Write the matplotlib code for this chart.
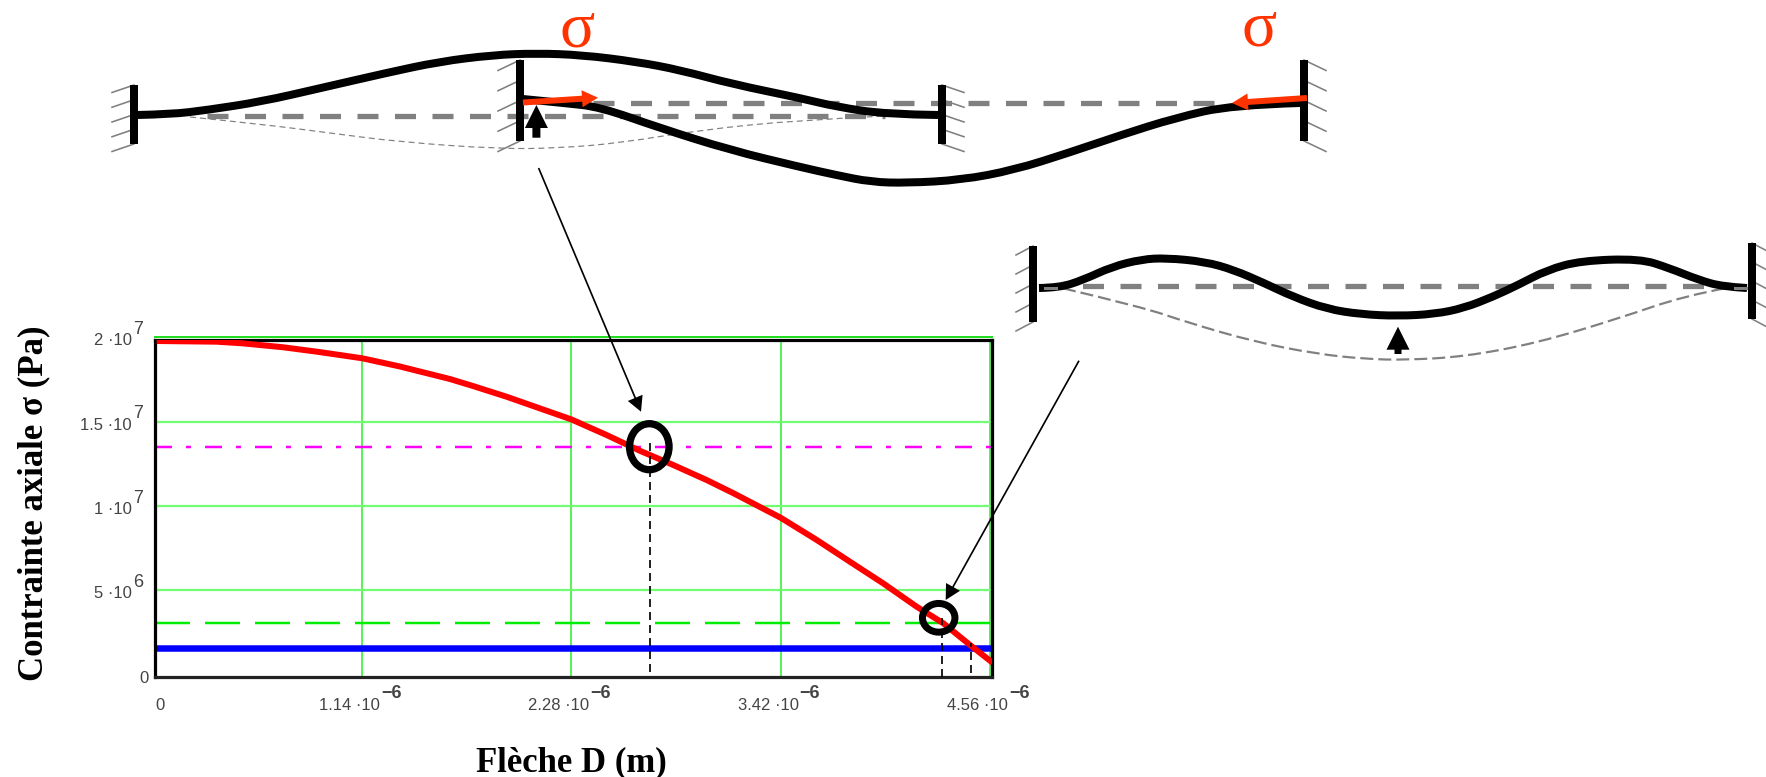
import numpy as np
import matplotlib
matplotlib.use('Agg')
import matplotlib.pyplot as plt
from matplotlib.path import Path
from matplotlib.patches import PathPatch, Ellipse

plt.rcParams['lines.scale_dashes'] = False
plt.rcParams['font.family'] = ['Liberation Sans', 'DejaVu Sans']

W, H = 1766, 777
PX = 0.72  # one pixel in points at dpi 100

# chart data
fleche = [0.022, 0.349, 0.492, 0.710, 0.893, 1.140, 1.347, 1.619, 1.746, 1.928, 2.109, 2.280, 2.473,
          2.654, 2.835, 3.017, 3.161, 3.420, 3.617, 3.798, 3.979, 4.161, 4.306, 4.452, 4.575]  # 1e-6 m
contrainte = [1.977, 1.973, 1.963, 1.940, 1.914, 1.875, 1.826, 1.752, 1.710, 1.647, 1.578, 1.513, 1.420,
              1.327, 1.243, 1.154, 1.077, 0.931, 0.799, 0.670, 0.542, 0.404, 0.306, 0.177, 0.072]  # 1e7 Pa
niveau_magenta = 1.351e7
niveau_vert = 3.09e6
niveau_bleu = 1.575e6
repere_x = [2.709e-6, 4.301e-6, 4.457e-6]
repere_haut = [1.371e7, 3.37e6, 1.87e6]
repere_bas = [0.17e6, -1.0e5, 1.1e5]

x_ticks = [0, 1.14e-6, 2.28e-6, 3.42e-6, 4.56e-6]
x_mantisses = ['0', '1.14 ·10', '2.28 ·10', '3.42 ·10', '4.56 ·10']
y_ticks = [0, 5e6, 1e7, 1.5e7, 2e7]
y_mantisses = ['0', '5 ·10', '1 ·10', '1.5 ·10', '2 ·10']
y_exposants = ['', '6', '7', '7', '7']

# beam sketches, in picture pixels
poutre_a = [(137, 115), (171, 114.3), (207, 110), (261, 101.7), (321, 88), (386, 73), (439, 61.7), (493, 55),
            (536, 53.3), (582, 55), (636, 61.7), (680, 70), (732, 84), (800, 98), (836, 106.7), (886, 114.3), (938, 115)]
poutre_b = [(523, 99), (564, 103), (600, 107), (660, 128), (730, 150), (800, 167), (836, 175), (871, 182), (907, 183),
            (961, 180), (1014, 170), (1068, 153), (1121, 135), (1175, 118), (1232, 105), (1300, 103)]
fine_a = [(190, 117), (260, 124), (330, 133), (400, 142), (500, 149), (560, 148), (620, 143), (700, 130), (800, 120), (885, 116)]
poutre_c = [(1039, 288), (1059, 287.7), (1083, 280), (1112, 266.7), (1142, 259.3), (1166, 258), (1205, 261.7), (1234, 270),
            (1264, 283), (1293, 296.7), (1327, 309), (1361, 314.3), (1398, 316), (1435, 314), (1464, 308), (1493, 296.7),
            (1518, 285), (1547, 270), (1581, 260.7), (1640, 258.7), (1669, 268), (1699, 280), (1723, 286.7), (1747, 288)]
fine_c = [(1063, 288.3), (1142, 307), (1186, 322), (1254, 341.7), (1317, 354), (1366, 359), (1405, 360), (1464, 356.7),
          (1537, 343), (1620, 318), (1684, 296), (1728, 287.7)]

# x, y top, y bottom, tick dx, tick dy
murs = [(134, 85, 144, -22, 7.5), (520, 60, 141, -22, 10.5), (942, 85, 144, 22, 7.5), (1304, 60, 141, 22, 10.5),
        (1033, 246, 322, -17, 9), (1752, 243, 319, 17, 9)]
pointilles_gros = [(207, 885, 116), (593, 1214, 102.7), (1045, 1747, 286)]
bouts_gris = [(1045, 1056, 288), (1735, 1747, 288)]


def smooth(points):
    # quadratic spline through the midpoints
    verts = [points[0]]
    codes = [Path.MOVETO]
    for p, q in zip(points[1:-1], points[2:]):
        verts += [p, ((p[0] + q[0]) / 2, (p[1] + q[1]) / 2)]
        codes += [Path.CURVE3, Path.CURVE3]
    verts[-1] = points[-1]
    return Path(verts, codes)


def block_arrow(ax, tail, tip, head_len, head_w, shaft_w, color, zorder=6):
    tail = np.array(tail, float)
    tip = np.array(tip, float)
    u = (tip - tail) / np.linalg.norm(tip - tail)
    n = np.array([-u[1], u[0]])
    base = tip - u * head_len
    poly = [tail + n * shaft_w / 2, base + n * shaft_w / 2, base + n * head_w / 2, tip,
            base - n * head_w / 2, base - n * shaft_w / 2, tail - n * shaft_w / 2]
    ax.fill(*zip(*poly), color=color, lw=0, zorder=zorder)


fig = plt.figure(figsize=(W / 100, H / 100), dpi=100)

# ---- chart ----
# the frame sits a little inside the 0 and 2e7 / outside the 4.56e-6 graduations, as in the mathcad plot
ax = fig.add_axes([155 / W, (H - 676.7) / H, 836.7 / W, 336.7 / H])
ax.set_xlim(0.0125e-6, 4.570e-6)
ax.set_ylim(-1.07e5, 1.983e7)
ax.set_xticks(x_ticks[1:])
ax.set_yticks(y_ticks[1:4])
ax.set_xticklabels([])
ax.set_yticklabels([])
ax.tick_params(length=0)
ax.grid(axis='x', color='#33ee33', lw=1.6 * PX, zorder=1)
ax.grid(axis='y', color='#70ff70', lw=2.2 * PX, zorder=1)
ax.set_axisbelow(True)
for s in ax.spines.values():
    s.set_linewidth(3.2 * PX)
    s.set_color('black')
ax.spines['bottom'].set_color('#222222')

ax.axhline(niveau_bleu, color='#0000ff', lw=6.5 * PX, zorder=2)
ax.axhline(niveau_vert, color='#00ee00', lw=2.5 * PX, ls=(0, (35 * PX, 15 * PX)), zorder=2)
ax.axhline(niveau_magenta, color='#ff00ff', lw=2.5 * PX,
           ls=(0, (17 * PX, 14 * PX, 5 * PX, 14 * PX)), zorder=2)
ax.plot(np.array(fleche) * 1e-6, np.array(contrainte) * 1e7, color='#ff0000', lw=6 * PX, zorder=3,
        solid_capstyle='butt', solid_joinstyle='round')
for xr, yh, yb in zip(repere_x, repere_haut, repere_bas):
    ax.plot([xr, xr], [yb, yh], color='black', lw=1.7 * PX, ls=(0, (8 * PX, 5 * PX)), zorder=4)

# tick labels drawn the way mathcad does, mantissa then a big raised exponent
gris = '#444444'
for val, m, e in zip(y_ticks, y_mantisses, y_exposants):
    if m == '0':
        ax.annotate(m, (0, val), xytext=(-4, -4), textcoords='offset pixels', ha='right', va='center',
                    fontsize=12, color=gris, annotation_clip=False)
        continue
    ax.annotate(m, (0, val), xytext=(-21, -3.5), textcoords='offset pixels', ha='right', va='center',
                fontsize=12, color=gris, annotation_clip=False)
    ax.annotate(e, (0, val), xytext=(-20, 8), textcoords='offset pixels', ha='left', va='center',
                fontsize=13, color=gris, annotation_clip=False)
for val, m in zip(x_ticks, x_mantisses):
    if m == '0':
        ax.annotate(m, (0, 0), xytext=(7, -31), textcoords='offset pixels', ha='center', va='center',
                    fontsize=12, color=gris, annotation_clip=False)
        continue
    ax.annotate(m, (val, 0), xytext=(18, -31), textcoords='offset pixels', ha='right', va='center',
                fontsize=12, color=gris, annotation_clip=False)
    ax.annotate('\u22126', (val, 0), xytext=(19, -19), textcoords='offset pixels', ha='left', va='center',
                fontsize=13, color=gris, fontweight='bold', annotation_clip=False)

# ---- sketches and annotations, in picture pixels ----
ov = fig.add_axes([0, 0, 1, 1])
ov.set_xlim(0, W)
ov.set_ylim(H, 0)
ov.axis('off')

# the 2e7 graduation shows as a green edge just over the frame
ov.plot([155, 992], [337, 337], color='#22dd22', lw=2 * PX, zorder=2)

gris_trait = '#808080'
for x0, x1, y in pointilles_gros:
    ov.plot([x0, x1], [y, y], color=gris_trait, lw=5.3 * PX, ls=(0, (21 * PX, 16.5 * PX)), zorder=3)
ov.add_patch(PathPatch(smooth(fine_a), fc='none', ec=gris_trait, lw=1.2 * PX, ls=(0, (6 * PX, 4 * PX)), zorder=3))
ov.add_patch(PathPatch(smooth(fine_c), fc='none', ec=gris_trait, lw=2.2 * PX, ls=(0, (13 * PX, 5 * PX)), zorder=3))

for pts in (poutre_a, poutre_b, poutre_c):
    ov.add_patch(PathPatch(smooth(pts), fc='none', ec='black', lw=8 * PX, capstyle='butt', zorder=4))
for x0, x1, y in bouts_gris:
    ov.plot([x0, x1], [y, y], color=gris_trait, lw=3 * PX, zorder=4.5)

for x, y0, y1, dx, dy in murs:
    ov.plot([x, x], [y0, y1], color='black', lw=8 * PX, solid_capstyle='butt', zorder=5)
    for yt in np.linspace(y0, y1, 5):
        ov.plot([x, x + dx], [yt, yt + dy], color=gris_trait, lw=1.6 * PX, zorder=3)

rouge = '#ff3300'
block_arrow(ov, (523, 102.5), (598, 97.7), 16, 17, 6, rouge)
block_arrow(ov, (1307, 98), (1232, 103), 16, 17, 6, rouge)
block_arrow(ov, (536.4, 137.7), (536.4, 105), 23, 23, 8, 'black')
block_arrow(ov, (1398, 354), (1398, 326.7), 23, 23, 7, 'black')
block_arrow(ov, (538.6, 168), (641, 411.7), 15, 16, 1.7, 'black')
block_arrow(ov, (1079, 360.7), (945.7, 600), 15, 16, 1.7, 'black')

ov.add_patch(Ellipse((649.3, 446.7), 39.5, 46, fc='none', ec='black', lw=7.3 * PX, zorder=6))
ov.add_patch(Ellipse((938.7, 617.8), 32.5, 28.7, fc='none', ec='black', lw=7 * PX, zorder=6))

serif = ['Liberation Serif', 'DejaVu Serif']
ov.text(577, 31, 'σ', color=rouge, fontsize=47, family=serif, ha='center', va='center')
ov.text(1259, 30, 'σ', color=rouge, fontsize=47, family=serif, ha='center', va='center')
ov.text(34, 503, 'Contrainte axiale σ (Pa)', rotation=90, fontsize=25, fontweight='bold', family=serif,
        ha='center', va='center')
ov.text(571, 763, 'Flèche D (m)', fontsize=25, fontweight='bold', family=serif, ha='center', va='center')

fig.savefig('out.png', dpi=100)
